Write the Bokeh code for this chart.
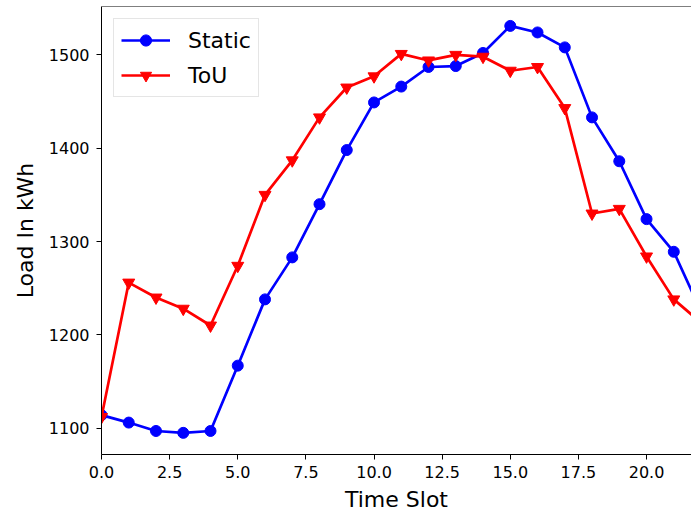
from bokeh.plotting import figure
from bokeh.models import Range1d, FixedTicker, PrintfTickFormatter, Span
from bokeh.embed import file_html
from bokeh.resources import INLINE

slots = list(range(23))
static = [1114, 1106, 1097, 1095, 1097, 1167, 1238, 1283, 1340, 1398, 1449, 1466,
          1487, 1488, 1502, 1531, 1524, 1508, 1433, 1386, 1324, 1289, 1225]
tou = [1112, 1256, 1240, 1228, 1210, 1274, 1350, 1387, 1433, 1465, 1477, 1501,
       1494, 1500, 1498, 1483, 1487, 1443, 1330, 1335, 1284, 1238, 1213]
x_ticks = [0, 2.5, 5, 7.5, 10, 12.5, 15, 17.5, 20]
y_ticks = [1100, 1200, 1300, 1400, 1500]

FONT = "DejaVu Sans"
Y0, Y1 = 1071.8, 1551.8

p = figure(width=691, height=514, output_backend="svg", toolbar_location=None,
           x_range=Range1d(0, 21.65), y_range=Range1d(Y0, Y1),
           min_border_left=101, min_border_right=0, min_border_top=6, min_border_bottom=60)
p.outline_line_color = None
p.xgrid.visible = False
p.ygrid.visible = False
p.background_fill_color = "white"
p.border_fill_color = "white"

p.line(slots, static, color="#0000ff", line_width=2.7, legend_label="Static")
p.scatter(slots, static, marker="circle", size=11, color="#0000ff", legend_label="Static")
p.line(slots, tou, color="#ff0000", line_width=2.7, legend_label="ToU")
p.scatter(slots, tou, marker="inverted_triangle", size=12, color="#ff0000", legend_label="ToU")

p.add_layout(Span(location=Y1, dimension="width", line_color="black", line_width=1))

for ax in (p.xaxis, p.yaxis):
    ax.axis_line_color = "black"
    ax.axis_line_width = 1
    ax.major_tick_line_color = "black"
    ax.major_tick_out = 5
    ax.major_tick_in = 0
    ax.minor_tick_line_color = None
    ax.major_label_text_font = FONT
    ax.major_label_text_font_size = "16px"
    ax.major_label_text_color = "black"
    ax.axis_label_text_font = FONT
    ax.axis_label_text_font_size = "22px"
    ax.axis_label_text_font_style = "normal"
    ax.axis_label_text_color = "black"

p.xaxis.ticker = FixedTicker(ticks=x_ticks)
p.xaxis.formatter = PrintfTickFormatter(format="%.1f")
p.yaxis.ticker = FixedTicker(ticks=y_ticks)
p.xaxis.axis_label = "Time Slot"
p.yaxis.axis_label = "Load In kWh"
p.xaxis.major_label_standoff = 6
p.xaxis.axis_label_standoff = 6
p.yaxis.major_label_standoff = 7
p.yaxis.axis_label_standoff = 8

lg = p.legend[0]
lg.location = "top_left"
lg.margin = 12
lg.padding = 7
lg.spacing = 7
lg.glyph_width = 49
lg.glyph_height = 28
lg.label_standoff = 18
lg.label_text_font = FONT
lg.label_text_font_size = "22px"
lg.label_text_color = "black"
lg.border_line_color = "#cccccc"
lg.border_line_width = 1
lg.background_fill_alpha = 0.8

open("out.html", "w").write(file_html(p, INLINE))
